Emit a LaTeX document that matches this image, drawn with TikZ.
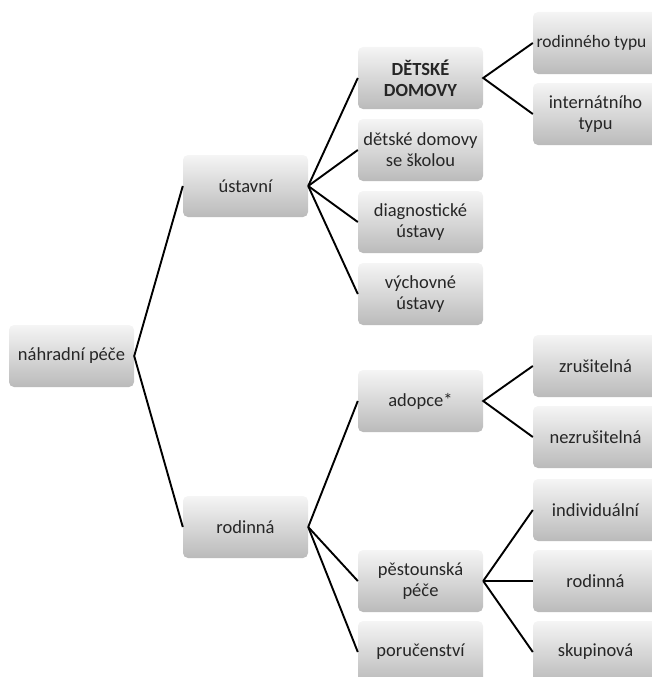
\documentclass[tikz,border=0pt]{standalone}
\usepackage{fontspec}
\setmainfont{Carlito}
\begin{document}
\begin{tikzpicture}[x=1pt,y=-1pt,
  box/.style={rectangle, rounded corners=5pt, minimum width=125pt, minimum height=62pt,
    inner sep=2pt, top color=white!96!black, bottom color=black!27, align=center,
    text=black!85, font=\fontsize{18.5pt}{21pt}\selectfont},
  link/.style={line width=1.9pt, black}]
\useasboundingbox (0,0) rectangle (652,677);
\begin{scope}
\clip (0,0) rectangle (652,677);
\node[box] (root) at (71.5,356) {náhradní péče};
\node[box] (ust) at (245.5,186) {ústavní};
\node[box] (rod) at (245.5,527) {rodinná};
\node[box] (dd) at (420.5,78) {\textbf{DĚTSKÉ}\\\textbf{DOMOVY}};
\node[box] (dds) at (420.5,150) {dětské domovy\\se školou};
\node[box] (diag) at (420.5,222) {diagnostické\\ústavy};
\node[box] (vych) at (420.5,294) {výchovné\\ústavy};
\node[box] (adop) at (420.5,401) {adopce*};
\node[box] (pest) at (420.5,581) {pěstounská\\péče};
\node[box] (poru) at (420.5,652) {poručenství};
\node[box] (rt) at (595.5,43) {\fontsize{17.5pt}{21pt}\selectfont rodinného typu\hspace*{8pt}};
\node[box] (it) at (595.5,114) {internátního\\typu};
\node[box] (zr) at (595.5,366) {zrušitelná};
\node[box] (nz) at (595.5,437) {nezrušitelná};
\node[box] (ind) at (595.5,510) {individuální};
\node[box] (rd) at (595.5,581) {rodinná};
\node[box] (sk) at (595.5,652) {skupinová};
\draw[link] (ust.west) -- (root.east) -- (rod.west);
\draw[link] (ust.east) -- (dd.west);
\draw[link] (ust.east) -- (dds.west);
\draw[link] (ust.east) -- (diag.west);
\draw[link] (ust.east) -- (vych.west);
\draw[link] (rod.east) -- (adop.west);
\draw[link] (rod.east) -- (pest.west);
\draw[link] (rod.east) -- (poru.west);
\draw[link] (rt.west) -- (dd.east) -- (it.west);
\draw[link] (zr.west) -- (adop.east) -- (nz.west);
\draw[link] (pest.east) -- (ind.west);
\draw[link] (pest.east) -- (rd.west);
\draw[link] (pest.east) -- (sk.west);
\end{scope}
\end{tikzpicture}
\end{document}
